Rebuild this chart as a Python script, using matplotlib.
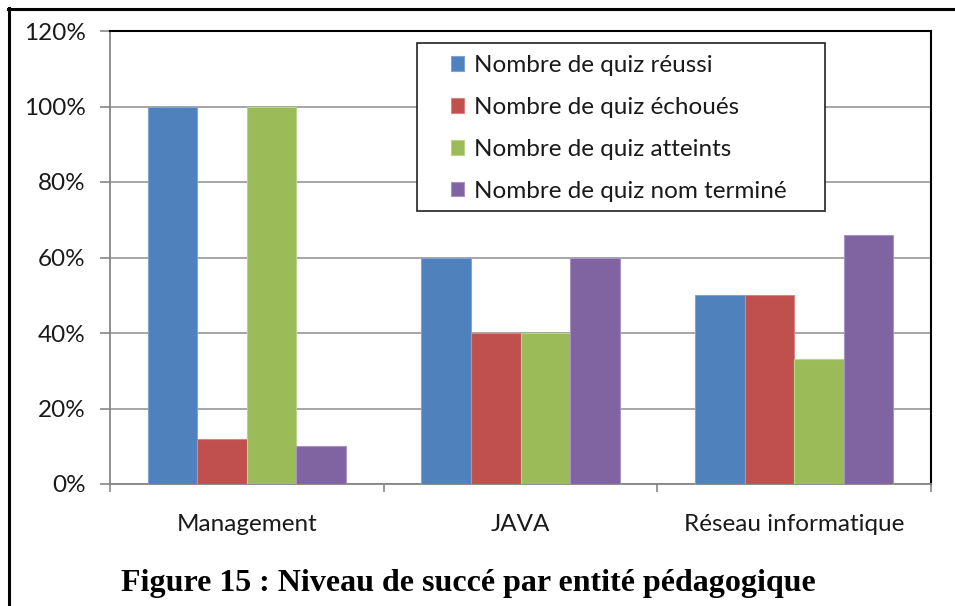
import matplotlib
matplotlib.use("Agg")
import matplotlib.pyplot as plt
import numpy as np
from matplotlib.lines import Line2D
from matplotlib.patches import Rectangle
from matplotlib.ticker import FuncFormatter

categories = ["Management", "JAVA", "Réseau informatique"]
series_names = ["Nombre de quiz réussi", "Nombre de quiz échoués",
                "Nombre de quiz atteints", "Nombre de quiz nom terminé"]
reussi = [100, 60, 50]
echoues = [12, 40, 50]
atteints = [100, 40, 33]
non_termine = [10, 60, 66]
yticks = [0, 20, 40, 60, 80, 100, 120]
caption = "Figure 15 : Niveau de succé par entité pédagogique"

colors = ["#4F81BD", "#C0504D", "#9BBB59", "#8064A2"]
edges = ["#7FA3D3", "#D98583", "#B8D486", "#A892C4"]
values = [reussi, echoues, atteints, non_termine]

plt.rcParams['font.family'] = ['Lato', 'DejaVu Sans']

fig = plt.figure(figsize=(9.55, 6.06), dpi=100)
fig.patch.set_facecolor("white")
W, H = 955, 606
ax = fig.add_axes([110 / W, 1 - 484 / H, (931 - 110) / W, (484 - 31) / H])

x = np.arange(len(categories))
bw = 0.181
for i, (vals, c, ec) in enumerate(zip(values, colors, edges)):
    ax.bar(x + (i - 1.5) * bw, vals, width=bw, color=c, edgecolor=ec,
           linewidth=0.8, label=series_names[i], zorder=3)

ax.set_xlim(-0.5, 2.5)
ax.set_ylim(0, 120)
ax.set_yticks(yticks)
ax.yaxis.set_major_formatter(FuncFormatter(lambda v, p: f"{int(v)}%"))
ax.yaxis.grid(True, color="#A6A6A6", linewidth=1.4, zorder=0)
ax.set_axisbelow(True)

ax.set_xticks([-0.5, 0.5, 1.5, 2.5])
ax.set_xticklabels([])
ax.set_xticks(x, categories, minor=True)
ax.tick_params(axis="x", which="major", length=6, width=1.2, color="#868686", direction="out")
ax.tick_params(axis="x", which="minor", length=0, pad=21.5, labelsize=17.5, labelcolor="#1a1a1a")
ax.tick_params(axis="y", length=7, width=1.2, color="#868686", pad=10.5, labelsize=17.5, labelcolor="#1a1a1a")

for s in ["left", "bottom"]:
    ax.spines[s].set_color("#868686")
    ax.spines[s].set_linewidth(1.3)
for s in ["top", "right"]:
    ax.spines[s].set_color("black")
    ax.spines[s].set_linewidth(1.5)

# legend frame
lx0, lx1 = (417 - 110) / 821, (825 - 110) / 821
ly0, ly1 = (484 - 211) / 453, (484 - 43) / 453
ax.add_patch(Rectangle((lx0, ly0), lx1 - lx0, ly1 - ly0, transform=ax.transAxes,
                       facecolor="white", edgecolor="#222222", linewidth=1.2, zorder=5))
leg = ax.legend(loc="upper left", bbox_to_anchor=((451 - 110) / 821, (484 - 55) / 453),
                frameon=False, fontsize=17.5, handlelength=0.55, handleheight=0.55,
                handletextpad=0.38, labelspacing=0.86, borderpad=0, borderaxespad=0)
leg.set_zorder(6)
for t in leg.get_texts():
    t.set_color("#1a1a1a")

fig.text(468 / W, 1 - 583 / H, caption, ha="center", va="center",
         fontsize=23, fontweight="bold", family=["Liberation Serif", "DejaVu Serif"])

# outer frame (top and left)
fig.add_artist(Line2D([8 / W, 1], [1 - 8.5 / H, 1 - 8.5 / H], transform=fig.transFigure,
                      color="black", linewidth=2.2))
fig.add_artist(Line2D([8.5 / W, 8.5 / W], [0, 1 - 8 / H], transform=fig.transFigure,
                      color="black", linewidth=2.2))

fig.savefig("out.png", dpi=100)
